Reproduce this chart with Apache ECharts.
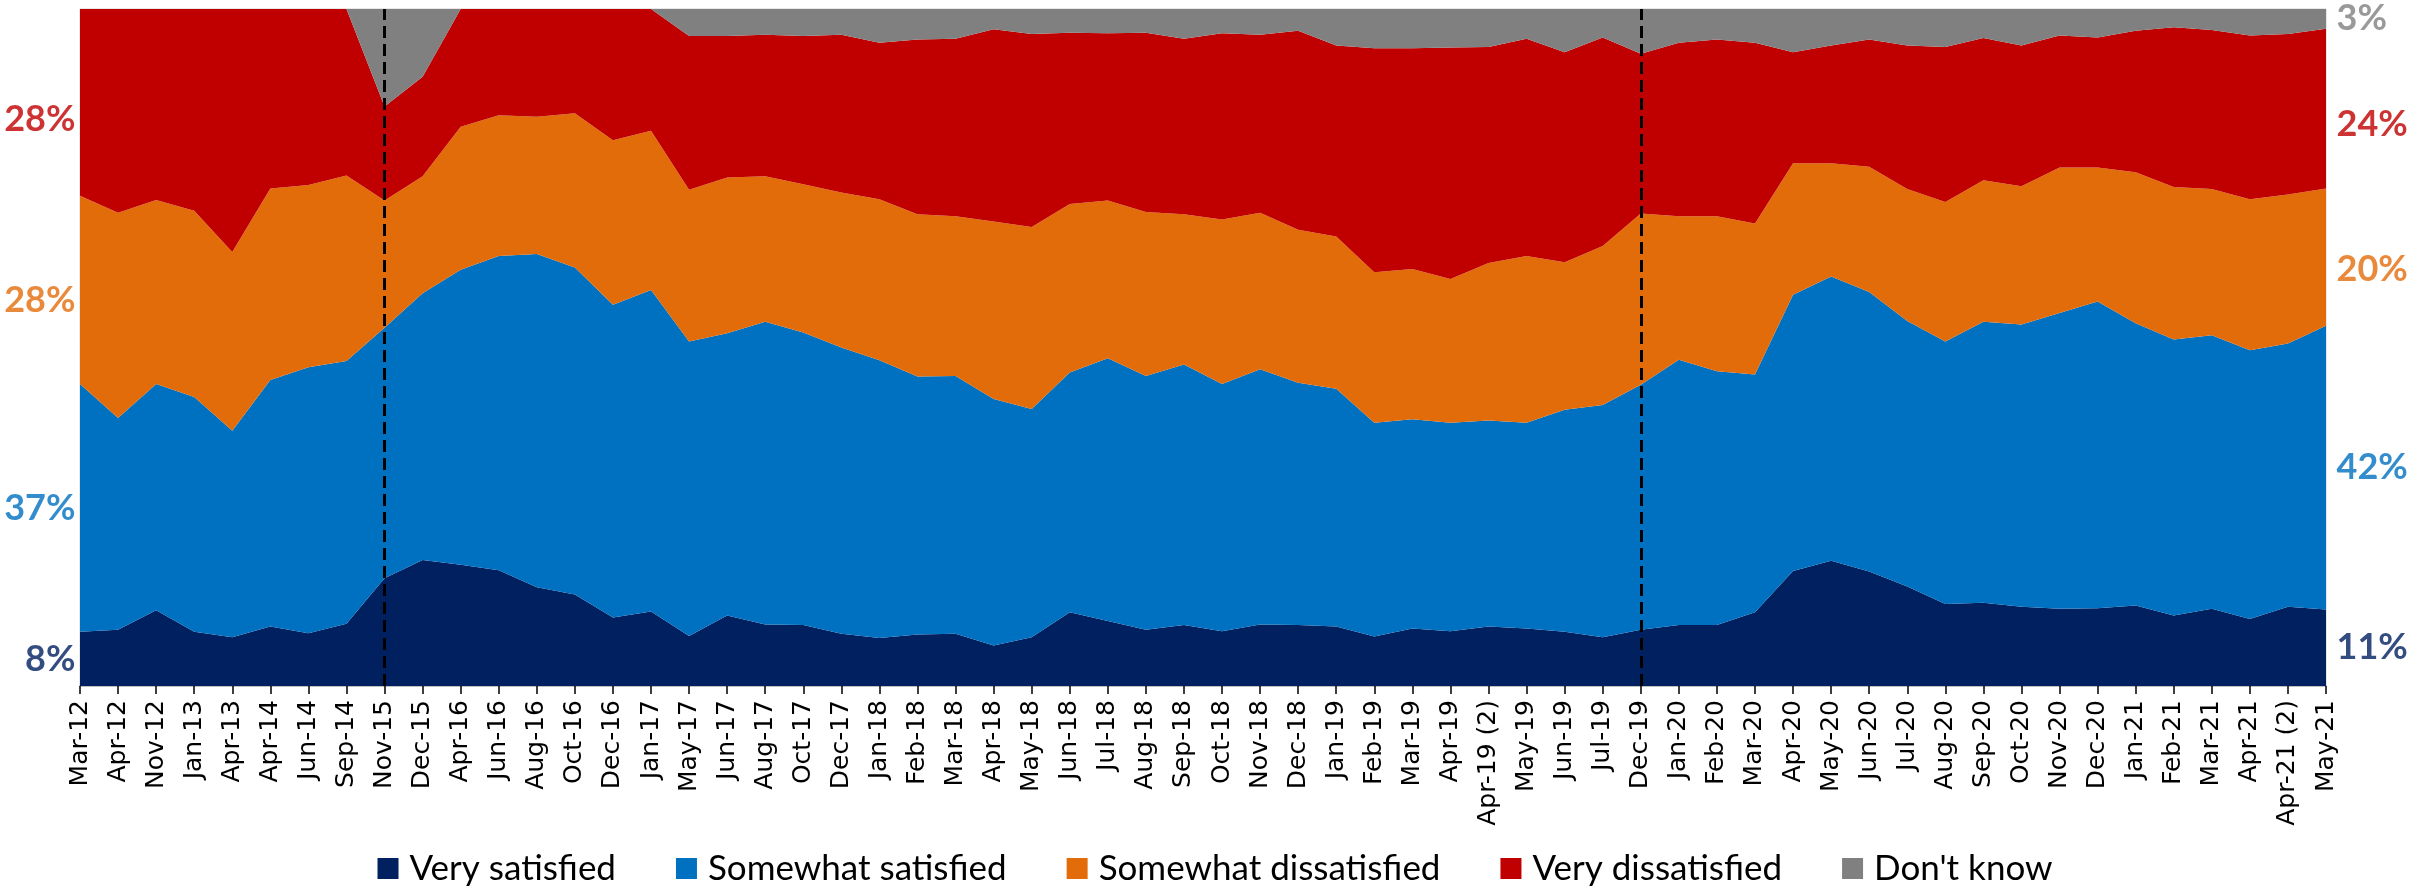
<!DOCTYPE html>
<html>
<head>
<meta charset="utf-8">
<script src="https://cdn.jsdelivr.net/npm/echarts@6/dist/echarts.min.js"></script>
<style>
  html, body { margin: 0; padding: 0; background: #fff; }
  #main { width: 2430px; height: 893px; }
</style>
</head>
<body>
<div id="main"></div>
<script>
var categories = ['Mar-12', 'Apr-12', 'Nov-12', 'Jan-13', 'Apr-13', 'Apr-14', 'Jun-14', 'Sep-14', 'Nov-15', 'Dec-15',
  'Apr-16', 'Jun-16', 'Aug-16', 'Oct-16', 'Dec-16', 'Jan-17', 'May-17', 'Jun-17', 'Aug-17', 'Oct-17',
  'Dec-17', 'Jan-18', 'Feb-18', 'Mar-18', 'Apr-18', 'May-18', 'Jun-18', 'Jul-18', 'Aug-18', 'Sep-18',
  'Oct-18', 'Nov-18', 'Dec-18', 'Jan-19', 'Feb-19', 'Mar-19', 'Apr-19', 'Apr-19 (2)', 'May-19', 'Jun-19',
  'Jul-19', 'Dec-19', 'Jan-20', 'Feb-20', 'Mar-20', 'Apr-20', 'May-20', 'Jun-20', 'Jul-20', 'Aug-20',
  'Sep-20', 'Oct-20', 'Nov-20', 'Dec-20', 'Jan-21', 'Feb-21', 'Mar-21', 'Apr-21', 'Apr-21 (2)', 'May-21'];

var verySatisfied = [8.0, 8.3, 11.2, 8.0, 7.2, 8.8, 7.8, 9.2, 15.9, 18.6,
  17.9, 17.1, 14.6, 13.5, 10.1, 11.0, 7.4, 10.4, 9.1, 9.0,
  7.7, 7.1, 7.6, 7.7, 6.0, 7.2, 10.9, 9.6, 8.3, 9.0,
  8.1, 9.1, 9.0, 8.8, 7.3, 8.5, 8.1, 8.8, 8.5, 8.0,
  7.2, 8.3, 9.0, 9.0, 10.9, 17.0, 18.5, 16.9, 14.7, 12.1,
  12.3, 11.7, 11.4, 11.5, 11.9, 10.4, 11.4, 9.9, 11.7, 11.3];

var somewhatSatisfied = [36.6, 31.3, 33.4, 34.7, 30.5, 36.4, 39.3, 38.8, 37.0, 39.4,
  43.6, 46.4, 49.2, 48.3, 46.2, 47.5, 43.5, 41.7, 44.7, 43.2,
  42.3, 41.0, 38.1, 38.1, 36.4, 33.7, 35.4, 38.8, 37.5, 38.5,
  36.5, 37.7, 35.8, 35.1, 31.6, 30.9, 30.8, 30.4, 30.4, 32.8,
  34.3, 36.2, 39.2, 37.5, 35.1, 40.8, 42.0, 41.3, 39.2, 38.8,
  41.5, 41.7, 43.7, 45.3, 41.7, 40.8, 40.4, 39.7, 38.9, 41.9];

var somewhatDissatisfied = [27.8, 30.3, 27.2, 27.5, 26.4, 28.3, 26.9, 27.4, 18.8, 17.3,
  21.1, 20.8, 20.3, 22.8, 24.3, 23.5, 22.4, 23.0, 21.5, 21.9,
  22.9, 23.8, 24.0, 23.6, 26.2, 26.9, 24.9, 23.3, 24.2, 22.2,
  24.3, 23.1, 22.6, 22.5, 22.2, 22.2, 21.2, 23.3, 24.6, 21.8,
  23.5, 25.3, 21.2, 22.9, 22.3, 19.4, 16.7, 18.5, 19.5, 20.6,
  20.9, 20.4, 21.5, 19.8, 22.3, 22.5, 21.6, 22.3, 22.0, 20.3];

var veryDissatisfied = [27.6, 30.1, 28.2, 29.8, 35.9, 26.5, 26.0, 24.6, 13.9, 14.7,
  17.4, 15.7, 15.9, 15.4, 19.4, 18.0, 22.7, 20.9, 20.9, 21.9,
  23.3, 23.1, 25.8, 26.2, 28.4, 28.5, 25.3, 24.7, 26.5, 25.9,
  27.5, 26.3, 29.4, 28.2, 33.1, 32.6, 34.2, 31.9, 32.1, 31.0,
  30.8, 23.6, 25.6, 26.1, 26.7, 16.4, 17.4, 18.8, 21.2, 22.9,
  21.0, 20.8, 19.5, 19.2, 20.9, 23.6, 23.5, 24.2, 23.7, 23.6];

var dontKnow = [0, 0, 0, 0, 0, 0, 0, 0, 14.4, 10.0,
  0, 0, 0, 0, 0, 0, 4.0, 4.0, 3.8, 4.0,
  3.8, 5.0, 4.5, 4.4, 3.0, 3.7, 3.5, 3.6, 3.5, 4.4,
  3.6, 3.8, 3.2, 5.4, 5.8, 5.8, 5.7, 5.6, 4.4, 6.4,
  4.2, 6.6, 5.0, 4.5, 5.0, 6.4, 5.4, 4.5, 5.4, 5.6,
  4.3, 5.4, 3.9, 4.2, 3.2, 2.7, 3.1, 3.9, 3.7, 2.9];

var seriesNames = ['Very satisfied', 'Somewhat satisfied', 'Somewhat dissatisfied', 'Very dissatisfied', "Don't know"];
var seriesColors = ['#002060', '#0070C0', '#E36C0A', '#C00000', '#808080'];
var seriesData = [verySatisfied, somewhatSatisfied, somewhatDissatisfied, veryDissatisfied, dontKnow];

// dashed markers
var markerCategories = ['Nov-15', 'Dec-19'];

// small vertical nudges of the end labels (px), like the hand placed labels in the original
var leftLabelShift = [0, 0, 10, 17, 0];
var rightLabelShift = [0, 0, 12, 16, 0];

var myChart = echarts.init(document.getElementById('main'));

var labelFont = 'Lato, "Open Sans", sans-serif';

// end labels sit in the middle of each band at the first / last point
function endLabels(idx, count, shift) {
  var out = [];
  var base = 0;
  for (var k = 0; k < count; k++) {
    var v = seriesData[k][idx];
    out.push({
      value: [idx, base + v / 2],
      raw: v,
      label: { color: seriesColors[k], offset: [0, shift[k]] }
    });
    base += v;
  }
  return out;
}

var series = seriesNames.map(function (name, k) {
  return {
    name: name,
    type: 'line',
    stack: 'total',
    symbol: 'none',
    lineStyle: { width: 0 },
    areaStyle: { color: seriesColors[k], opacity: 1 },
    itemStyle: { color: seriesColors[k] },
    data: seriesData[k]
  };
});

var labelStyle = {
  show: true,
  fontFamily: labelFont,
  fontWeight: 'bold',
  fontSize: 36,
  formatter: function (p) { return Math.round(p.data.raw) + '%'; }
};

series.push({
  name: 'left-labels',
  type: 'scatter',
  symbolSize: 1,
  itemStyle: { color: 'rgba(0,0,0,0)' },
  clip: false,
  silent: true,
  z: 10,
  label: Object.assign({ position: 'left', distance: 4 }, labelStyle),
  data: endLabels(0, 4, leftLabelShift)
});

series.push({
  name: 'right-labels',
  type: 'scatter',
  symbolSize: 1,
  itemStyle: { color: 'rgba(0,0,0,0)' },
  clip: false,
  silent: true,
  z: 10,
  label: Object.assign({ position: 'right', distance: 10 }, labelStyle),
  data: endLabels(categories.length - 1, 5, rightLabelShift),
  markLine: {
    silent: true,
    symbol: ['none', 'none'],
    label: { show: false },
    lineStyle: { color: '#000', type: [12, 6], width: 3 },
    data: markerCategories.map(function (c) { return { xAxis: c }; })
  }
});

var option = {
  animation: false,
  backgroundColor: '#fff',
  grid: {
    left: 80,
    right: 104,
    top: 9,
    bottom: 207,
    show: true,
    borderColor: '#d0d0d0',
    borderWidth: 1
  },
  legend: {
    data: seriesNames,
    bottom: 2,
    left: 'center',
    itemWidth: 21,
    itemHeight: 21,
    itemGap: 60,
    icon: 'rect',
    textStyle: { fontFamily: labelFont, fontSize: 35, color: '#000', padding: [0, 0, 0, 6] }
  },
  xAxis: {
    type: 'category',
    data: categories,
    boundaryGap: false,
    axisLine: { lineStyle: { color: '#bfbfbf', width: 2 } },
    axisTick: { show: true, alignWithLabel: true, length: 8, lineStyle: { color: '#000', width: 1.5 } },
    axisLabel: {
      interval: 0,
      rotate: 90,
      margin: 14,
      fontFamily: '"DejaVu Sans", sans-serif',
      fontSize: 25,
      color: '#000'
    },
    splitLine: { show: false }
  },
  yAxis: {
    type: 'value',
    min: 0,
    max: 100,
    show: false
  },
  series: series
};

myChart.setOption(option);

window.onresize = function () {
  myChart.resize();
};
</script>
</body>
</html>
